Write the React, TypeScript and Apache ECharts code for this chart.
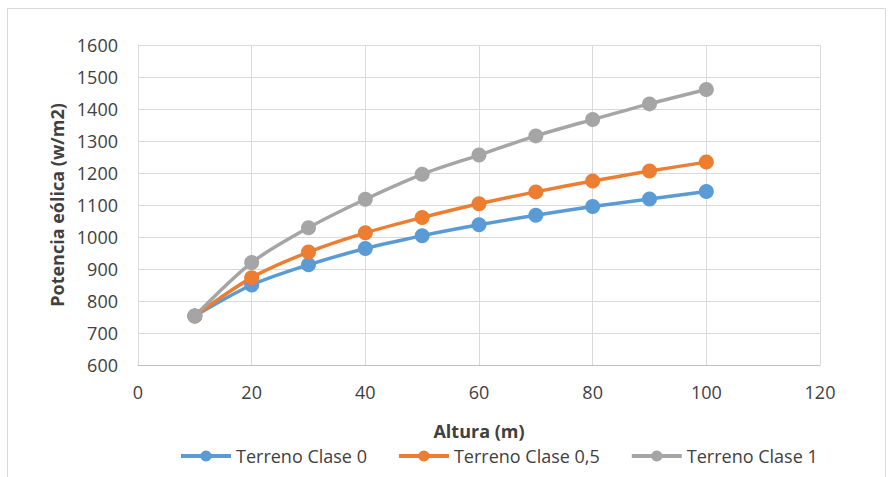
import React, { useEffect, useRef } from "react";
import * as echarts from "echarts";

const alturas = [10, 20, 30, 40, 50, 60, 70, 80, 90, 100];
const clase0 = [753, 850, 913, 964, 1004, 1038, 1068, 1095, 1119, 1142];
const clase05 = [753, 873, 953, 1013, 1061, 1104, 1141, 1175, 1206, 1234];
const clase1 = [753, 920, 1029, 1118, 1196, 1256, 1316, 1367, 1416, 1461];
const seriesNames = ["Terreno Clase 0", "Terreno Clase 0,5", "Terreno Clase 1"];
const seriesColors = ["#5B9BD5", "#ED7D31", "#A5A5A5"];

const FONT = "'Open Sans', 'Noto Sans', sans-serif";

export default function App() {
  const ref = useRef<HTMLDivElement>(null);
  useEffect(() => {
    if (!ref.current) return;
    const chart = echarts.init(ref.current, undefined, { renderer: "svg" });
    const datasets = [clase0, clase05, clase1];
    chart.setOption({
      animation: false,
      backgroundColor: "#ffffff",
      graphic: [
        {
          type: "rect",
          shape: { x: 7.5, y: 8.5, width: 878, height: 480 },
          style: { fill: "none", stroke: "#d9d9d9", lineWidth: 1 },
          silent: true,
        },
      ],
      grid: { left: 138, top: 45, right: 74, bottom: 112, containLabel: false },
      legend: {
        top: 441,
        left: 174,
        itemWidth: 50,
        itemHeight: 14,
        itemGap: 30,
        lineStyle: { width: 4 },
        textStyle: { fontFamily: FONT, fontSize: 18, color: "#404040", lineHeight: 20 },
        data: seriesNames,
      },
      xAxis: {
        type: "value",
        min: 0,
        max: 120,
        interval: 20,
        name: "Altura (m)",
        nameLocation: "middle",
        nameGap: 56,
        nameTextStyle: { fontFamily: FONT, fontSize: 18, fontWeight: "bold", color: "#404040", lineHeight: 20 },
        axisLine: { show: true, lineStyle: { color: "#bfbfbf", width: 1 } },
        axisTick: { show: false },
        axisLabel: {
          fontFamily: FONT,
          fontSize: 18,
          color: "#404040",
          margin: 18,
          formatter: (v: number) => String(v),
        },
        splitLine: { show: true, lineStyle: { color: "#d9d9d9", width: 1 } },
      },
      yAxis: {
        type: "value",
        min: 600,
        max: 1600,
        interval: 100,
        name: "Potencia eólica (w/m2)",
        nameLocation: "middle",
        nameGap: 72,
        nameRotate: 90,
        nameTextStyle: { fontFamily: FONT, fontSize: 18, fontWeight: "bold", color: "#404040" },
        axisLine: { show: true, lineStyle: { color: "#d9d9d9", width: 1 } },
        axisTick: { show: false },
        axisLabel: {
          fontFamily: FONT,
          fontSize: 18,
          color: "#404040",
          margin: 20,
          formatter: (v: number) => String(v),
        },
        splitLine: { show: true, lineStyle: { color: "#d9d9d9", width: 1 } },
      },
      series: datasets.map((d, i) => ({
        name: seriesNames[i],
        type: "line",
        smooth: 0.3,
        symbol: "circle",
        symbolSize: 15,
        data: alturas.map((x, j) => [x, d[j]]),
        itemStyle: { color: seriesColors[i] },
        lineStyle: { color: seriesColors[i], width: 3.5 },
      })),
    });
    return () => chart.dispose();
  }, []);
  return (
    <div
      ref={ref}
      style={{ position: "fixed", left: 0, top: 0, width: 894, height: 477 }}
    />
  );
}
